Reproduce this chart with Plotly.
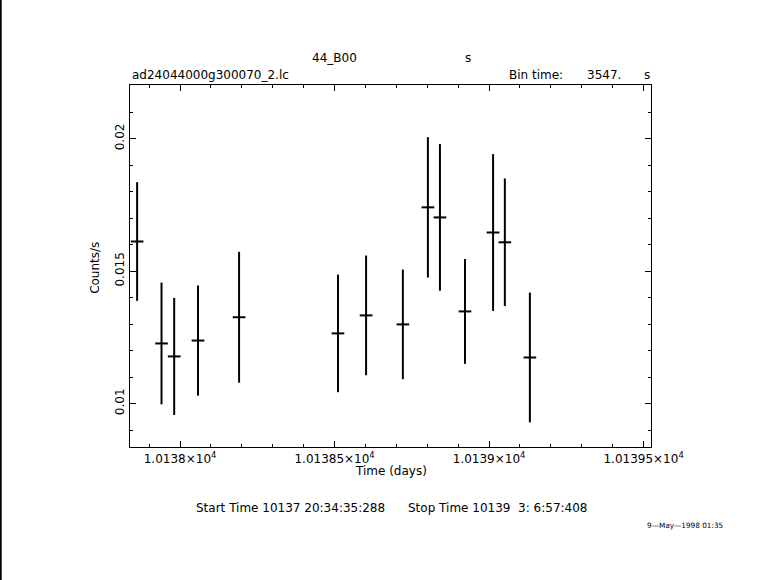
import plotly.graph_objects as go

# Data
time_days = [10137.861, 10137.940, 10137.981, 10138.058, 10138.191, 10138.511, 10138.602,
             10138.721, 10138.802, 10138.841, 10138.922, 10139.013, 10139.051, 10139.132]
rate = [0.01612, 0.01227, 0.01178, 0.01238, 0.01326, 0.01265, 0.01333,
        0.01299, 0.01741, 0.01703, 0.01348, 0.01646, 0.01609, 0.01174]
rate_err = [0.00224, 0.00230, 0.00221, 0.00208, 0.00247, 0.00222, 0.00226,
            0.00207, 0.00265, 0.00277, 0.00198, 0.00296, 0.00241, 0.00245]
bin_time_s = 3547.0
half_bin_days = [bin_time_s / 2 / 86400.0] * len(time_days)

x_tickvals = [10138.0, 10138.5, 10139.0, 10139.5]
x_ticktext = ["1.0138×10<sup>4</sup>", "1.01385×10<sup>4</sup>", "1.0139×10<sup>4</sup>", "1.01395×10<sup>4</sup>"]
y_tickvals = [0.01, 0.015, 0.02]
y_ticktext = ["0.01", "0.015", "0.02"]

FONT = "DejaVu Sans"
FS = 12

fig = go.Figure()
fig.add_trace(go.Scatter(
    x=time_days, y=rate, mode="markers",
    marker=dict(size=1, color="rgba(0,0,0,0)"),
    error_y=dict(type="data", array=rate_err, visible=True, color="black", thickness=2, width=0),
    error_x=dict(type="data", array=half_bin_days, visible=True, color="black", thickness=2, width=0),
    showlegend=False, hoverinfo="skip",
))

L, R, T, B = 130.3, 651.3, 85.0, 446.7
W, H = R - L, B - T

def px(x):
    return (x - L) / W

def py(y):
    return (B - y) / H

axis_common = dict(
    showline=True, linecolor="black", linewidth=1.3, mirror="ticks",
    ticks="inside", ticklen=6, tickwidth=1.3, tickcolor="black",
    showgrid=False, zeroline=False,
    tickfont=dict(family=FONT, size=FS, color="black"),
)

fig.update_layout(
    width=781, height=580,
    margin=dict(l=L, r=781 - R, t=T, b=580 - B, pad=0),
    paper_bgcolor="white", plot_bgcolor="white",
    xaxis=dict(range=[10137.838, 10139.524], tickvals=x_tickvals, ticktext=x_ticktext,
               minor=dict(dtick=0.1, tick0=10138.0, ticks="inside", ticklen=3, tickwidth=1.3,
                          tickcolor="black", showgrid=False),
               **axis_common),
    yaxis=dict(range=[0.00836, 0.02203], tickvals=y_tickvals, ticktext=y_ticktext, tickangle=-90,
               minor=dict(dtick=0.001, tick0=0.01, ticks="inside", ticklen=3, tickwidth=1.3,
                          tickcolor="black", showgrid=False),
               **axis_common),
    font=dict(family=FONT, size=FS, color="black"),
)

def ann(text, x, y, xanchor="left", size=FS, textangle=0):
    fig.add_annotation(text=text, x=px(x), y=py(y), xref="paper", yref="paper",
                       xanchor=xanchor, yanchor="middle", showarrow=False,
                       textangle=textangle, font=dict(family=FONT, size=size, color="black"))

ann("44_B00", 334.6, 58, "center")
ann("s", 468.5, 58, "center")
ann("ad24044000g300070_2.lc", 130.4, 75, "left")
ann("Bin time:", 507.7, 75, "left")
ann("3547.", 585.5, 75, "left")
ann("s", 647.5, 75, "center")
ann("Time (days)", 391, 471, "center")
ann("Counts/s", 95, 268, "center", textangle=-90)
ann("Start Time 10137 20:34:35:288", 194, 508, "left")
ann("Stop Time 10139\u00a0\u00a03:\u00a06:57:408", 406, 508, "left")
ann("9\u2014May\u20141998 01:35", 645, 525, "left", size=7.3)

# left border line of the page
fig.add_shape(type="line", xref="paper", yref="paper",
              x0=px(1), x1=px(1), y0=py(0), y1=py(580),
              line=dict(color="black", width=2))

fig.write_html("out.html", config={"displayModeBar": False},
               post_script="document.body.style.margin='0';document.body.style.overflow='hidden';")
